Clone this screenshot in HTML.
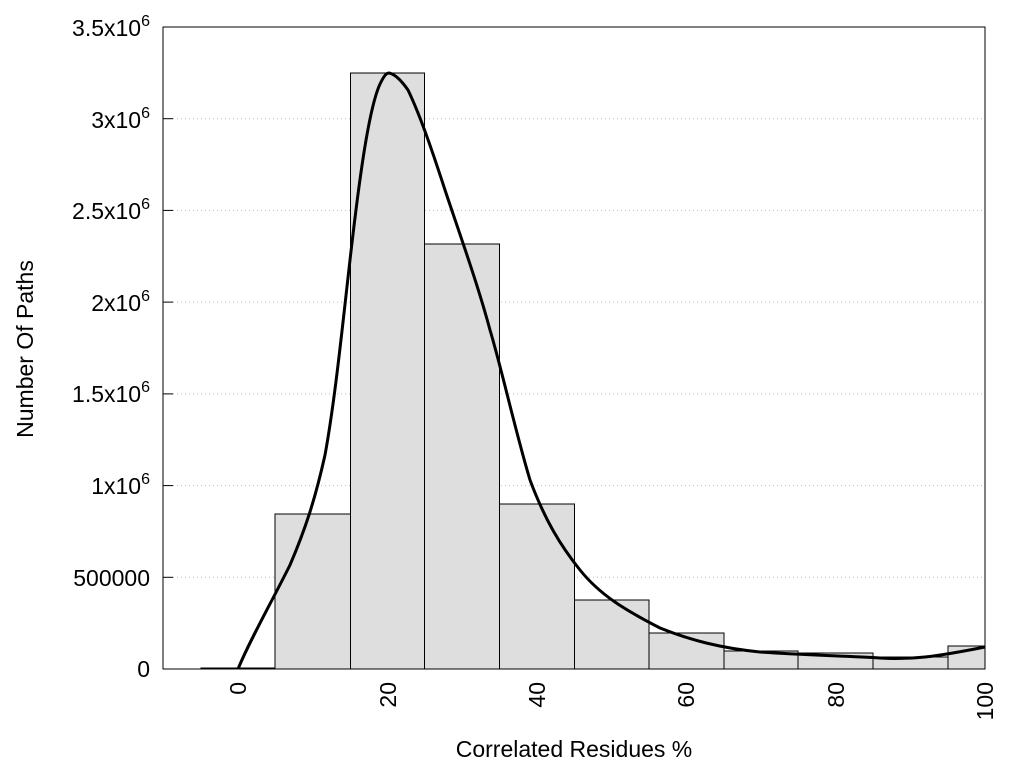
<!DOCTYPE html>
<html><head><style>body{margin:0;background:#fff}svg{display:block}text{font-family:"Liberation Sans",sans-serif;fill:#000}</style></head>
<body>
<svg width="1024" height="768" viewBox="0 0 1024 768">
<g stroke="#bbb" stroke-dasharray="1,3" stroke-width="1">
<line x1="173" y1="577.3" x2="985" y2="577.3"/><line x1="173" y1="485.6" x2="985" y2="485.6"/>
<line x1="173" y1="393.9" x2="985" y2="393.9"/><line x1="173" y1="302.1" x2="985" y2="302.1"/>
<line x1="173" y1="210.4" x2="985" y2="210.4"/><line x1="173" y1="118.7" x2="985" y2="118.7"/>
</g>
<g fill="#dedede" stroke="#000" stroke-width="1">
<rect x="201" y="668" width="74" height="1"/>
<rect x="275" y="514" width="75.5" height="155"/>
<rect x="350.5" y="73" width="74" height="596"/>
<rect x="424.5" y="244" width="75" height="425"/>
<rect x="499.5" y="504" width="75" height="165"/>
<rect x="574.5" y="600" width="74.5" height="69"/>
<rect x="649" y="633" width="75" height="36"/>
<rect x="724" y="651" width="74" height="18"/>
<rect x="798" y="653" width="75" height="16"/>
<rect x="873" y="657" width="75" height="12"/>
<rect x="948" y="646" width="37" height="23"/>
</g>
<path d="M238,669 C250,640 270,605 290,565 C305,530 315,500 325,455 C335,400 342,330 350,260 C358,190 368,110 380,84 C384,76 386,73 389,73 C395,74 401,80 408,90 C420,115 432,150 445,190 C460,235 478,285 490,330 C502,370 515,430 530,480 C545,520 560,545 580,570 C600,595 625,610 660,628 C690,640 720,648 760,652 C800,655 850,656 880,658 C910,660 935,657 985,647" fill="none" stroke="#000" stroke-width="3" stroke-linejoin="round"/>
<rect x="163" y="27" width="822" height="642" fill="none" stroke="#000" stroke-width="1"/>
<g stroke="#000" stroke-width="1">
<line x1="163" y1="577.3" x2="173" y2="577.3"/><line x1="163" y1="485.6" x2="173" y2="485.6"/>
<line x1="163" y1="393.9" x2="173" y2="393.9"/><line x1="163" y1="302.1" x2="173" y2="302.1"/>
<line x1="163" y1="210.4" x2="173" y2="210.4"/><line x1="163" y1="118.7" x2="173" y2="118.7"/>
</g>
<g font-size="23" text-anchor="end">
<text x="150" y="677">0</text>
<text x="150" y="586">500000</text>
<text x="150" y="494">1x10<tspan dy="-10" font-size="16">6</tspan></text>
<text x="150" y="402">1.5x10<tspan dy="-10" font-size="16">6</tspan></text>
<text x="150" y="311">2x10<tspan dy="-10" font-size="16">6</tspan></text>
<text x="150" y="219">2.5x10<tspan dy="-10" font-size="16">6</tspan></text>
<text x="150" y="128">3x10<tspan dy="-10" font-size="16">6</tspan></text>
<text x="150" y="36">3.5x10<tspan dy="-10" font-size="16">6</tspan></text>
</g>
<g font-size="23" text-anchor="end">
<text transform="translate(246,682) rotate(-90)">0</text>
<text transform="translate(396,682) rotate(-90)">20</text>
<text transform="translate(545,682) rotate(-90)">40</text>
<text transform="translate(694,682) rotate(-90)">60</text>
<text transform="translate(844,682) rotate(-90)">80</text>
<text transform="translate(993,682) rotate(-90)">100</text>
</g>
<text x="574" y="757" font-size="23" text-anchor="middle">Correlated Residues %</text>
<text transform="translate(33,349) rotate(-90)" font-size="23" text-anchor="middle">Number Of Paths</text>
</svg>
</body></html>
